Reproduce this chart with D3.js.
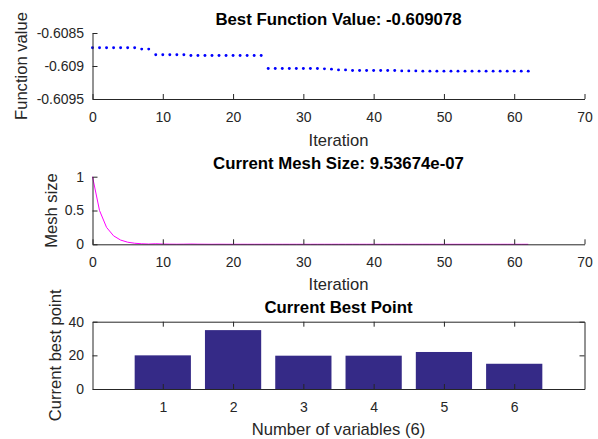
<!DOCTYPE html>
<html>
<head>
<meta charset="utf-8">
<script src="https://cdn.jsdelivr.net/npm/d3@7"></script>
<style>
  html, body { margin: 0; padding: 0; background: #fff; }
  svg { display: block; font-family: "Liberation Sans", Arial, Helvetica, sans-serif; }
</style>
</head>
<body>
<svg id="chart" width="598" height="439"></svg>
<script>
// Best objective value after each iteration (iterations 0..62)
const iterations = d3.range(0, 63);
const bestValues = [
  -0.608724, -0.608724, -0.608724, -0.608724, -0.608724, -0.608724, -0.608724,
  -0.608744, -0.608744,
  -0.608830, -0.608830, -0.608830, -0.608830, -0.608830,
  -0.608841, -0.608841, -0.608841, -0.608841, -0.608841, -0.608841, -0.608841,
  -0.608841, -0.608841, -0.608841, -0.608841,
  -0.609037, -0.609037, -0.609037, -0.609037, -0.609037, -0.609037, -0.609037,
  -0.609039, -0.609043, -0.609048, -0.609059, -0.609059,
  -0.609069, -0.609069, -0.609069, -0.609069, -0.609069, -0.609069, -0.609069,
  -0.609074, -0.609074, -0.609074,
  -0.609078, -0.609078, -0.609078, -0.609078, -0.609078, -0.609078, -0.609078,
  -0.609078, -0.609078, -0.609078, -0.609078, -0.609078, -0.609078, -0.609078,
  -0.609078, -0.609078
];

// Mesh size after each iteration
const meshSizes = [
  1, 0.5, 0.25, 0.125, 0.0625, 0.03125, 0.015625, 0.0078125, 0.00390625,
  0.0078125, 0.00390625, 0.001953125, 0.0009765625, 0.001953125, 0.00390625,
  0.001953125, 0.0009765625, 0.00048828125, 0.0009765625, 0.00048828125,
  0.000244140625, 0.00048828125, 0.000244140625, 0.0001220703125,
  0.000244140625, 0.00048828125, 0.000244140625, 0.0001220703125,
  0.00006103515625, 0.0001220703125, 0.00006103515625, 0.000030517578125,
  0.00006103515625, 0.0001220703125, 0.000244140625, 0.00048828125,
  0.000244140625, 0.00048828125, 0.000244140625, 0.0001220703125,
  0.00006103515625, 0.000030517578125, 0.0000152587890625, 0.000030517578125,
  0.00006103515625, 0.000030517578125, 0.00006103515625, 0.0001220703125,
  0.00006103515625, 0.000030517578125, 0.0000152587890625, 0.00000762939453125,
  0.0000152587890625, 0.00000762939453125, 0.000003814697265625,
  0.0000019073486328125, 0.000003814697265625, 0.0000019073486328125,
  0.000003814697265625, 0.0000019073486328125, 0.000003814697265625,
  0.0000019073486328125, 0.00000095367431640625
];

// Current best point, one bar per variable
const variables = [1, 2, 3, 4, 5, 6];
const bestPoint = [20, 35, 19.8, 19.8, 22, 15];

// Tick values and labels
const iterTicks = [0, 10, 20, 30, 40, 50, 60, 70];
const fvalTicks = [-0.6095, -0.609, -0.6085];
const fvalTickLabels = ["-0.6095", "-0.609", "-0.6085"];
const meshTicks = [0, 0.5, 1];
const meshTickLabels = ["0", "0.5", "1"];
const pointTicks = [0, 20, 40];

const AXIS = "#262626";
const svg = d3.select("#chart");

const left = 92.5, right = 584.5;
const panels = [
  { top: 33, bottom: 99 },
  { top: 176.7, bottom: 244.3 },
  { top: 321.7, bottom: 389 }
];

function styleAxis(g) {
  g.selectAll("path.domain").attr("stroke", AXIS).attr("stroke-width", 1);
  g.selectAll(".tick line").attr("stroke", AXIS).attr("stroke-width", 1);
  g.selectAll(".tick text").attr("fill", AXIS).attr("font-size", 14)
    .attr("font-family", "Liberation Sans, Arial, sans-serif");
}

function title(text, y) {
  svg.append("text").attr("x", (left + right) / 2).attr("y", y)
    .attr("text-anchor", "middle").attr("font-weight", "bold")
    .attr("font-size", 16.8).attr("fill", "#000").text(text);
}
function xLabel(text, y) {
  svg.append("text").attr("x", (left + right) / 2).attr("y", y)
    .attr("text-anchor", "middle").attr("font-size", 16.6)
    .attr("fill", AXIS).text(text);
}
function yLabel(text, x, p) {
  svg.append("text")
    .attr("transform", `translate(${x},${(p.top + p.bottom) / 2}) rotate(-90)`)
    .attr("text-anchor", "middle").attr("font-size", 16.6)
    .attr("fill", AXIS).text(text);
}

// ---------- Panel 1: best function value ----------
{
  const p = panels[0];
  const x = d3.scaleLinear().domain([0, 70]).range([left, right]);
  const y = d3.scaleLinear().domain([-0.6095, -0.6085]).range([p.bottom, p.top]);

  svg.append("g").selectAll("circle").data(iterations).join("circle")
    .attr("cx", i => x(i)).attr("cy", i => y(bestValues[i]))
    .attr("r", 1.45).attr("fill", "#0000ff");

  const gx = svg.append("g").attr("transform", `translate(0,${p.bottom})`)
    .call(d3.axisBottom(x).tickValues(iterTicks).tickFormat(d3.format("d"))
      .tickSizeInner(-5).tickSizeOuter(0).tickPadding(12.7));
  styleAxis(gx);
  const gy = svg.append("g").attr("transform", `translate(${left},0)`)
    .call(d3.axisLeft(y).tickValues(fvalTicks)
      .tickFormat((d, i) => fvalTickLabels[i])
      .tickSizeInner(-5).tickSizeOuter(0).tickPadding(8.4));
  styleAxis(gy);

  title(`Best Function Value: ${bestValues[bestValues.length - 1]}`, 25);
  xLabel("Iteration", 145.7);
  yLabel("Function value", 27, p);
}

// ---------- Panel 2: mesh size ----------
{
  const p = panels[1];
  const x = d3.scaleLinear().domain([0, 70]).range([left, right]);
  const y = d3.scaleLinear().domain([0, 1]).range([p.bottom, p.top]);

  svg.append("path").datum(iterations)
    .attr("d", d3.line().x(i => x(i)).y(i => y(meshSizes[i])))
    .attr("fill", "none").attr("stroke", "#ff00ff").attr("stroke-width", 1);

  const gx = svg.append("g").attr("transform", `translate(0,${p.bottom})`)
    .call(d3.axisBottom(x).tickValues(iterTicks).tickFormat(d3.format("d"))
      .tickSizeInner(-5).tickSizeOuter(0).tickPadding(12.7));
  styleAxis(gx);
  const gy = svg.append("g").attr("transform", `translate(${left},0)`)
    .call(d3.axisLeft(y).tickValues(meshTicks)
      .tickFormat((d, i) => meshTickLabels[i])
      .tickSizeInner(-5).tickSizeOuter(0).tickPadding(8.4));
  styleAxis(gy);

  const last = meshSizes[meshSizes.length - 1].toExponential(5)
    .replace(/e([+-])(\d)$/, "e$10$2");
  title(`Current Mesh Size: ${last}`, 169);
  xLabel("Iteration", 290);
  yLabel("Mesh size", 57, p);
}

// ---------- Panel 3: current best point ----------
{
  const p = panels[2];
  const x = d3.scaleLinear().domain([0, 7]).range([left, right]);
  const y = d3.scaleLinear().domain([0, 40]).range([p.bottom, p.top]);
  const bw = x(0.8) - x(0);

  svg.append("g").selectAll("rect").data(variables).join("rect")
    .attr("x", (d) => x(d) - bw / 2)
    .attr("y", (d, i) => y(bestPoint[i]))
    .attr("width", bw)
    .attr("height", (d, i) => y(0) - y(bestPoint[i]))
    .attr("fill", "#352a87");

  const gx = svg.append("g").attr("transform", `translate(0,${p.bottom})`)
    .call(d3.axisBottom(x).tickValues(variables).tickFormat(d3.format("d"))
      .tickSizeInner(-5).tickSizeOuter(0).tickPadding(12.7));
  styleAxis(gx);
  const gt = svg.append("g").attr("transform", `translate(0,${p.top})`)
    .call(d3.axisTop(x).tickValues(variables).tickFormat("")
      .tickSizeInner(-5).tickSizeOuter(0));
  styleAxis(gt);
  const gy = svg.append("g").attr("transform", `translate(${left},0)`)
    .call(d3.axisLeft(y).tickValues(pointTicks).tickFormat(d3.format("d"))
      .tickSizeInner(-5).tickSizeOuter(0).tickPadding(8.4));
  styleAxis(gy);
  const gr = svg.append("g").attr("transform", `translate(${right},0)`)
    .call(d3.axisRight(y).tickValues(pointTicks).tickFormat("")
      .tickSizeInner(-5).tickSizeOuter(0));
  styleAxis(gr);

  title("Current Best Point", 313.3);
  xLabel("Number of variables (6)", 435);
  yLabel("Current best point", 60.5, p);
}
</script>
</body>
</html>
